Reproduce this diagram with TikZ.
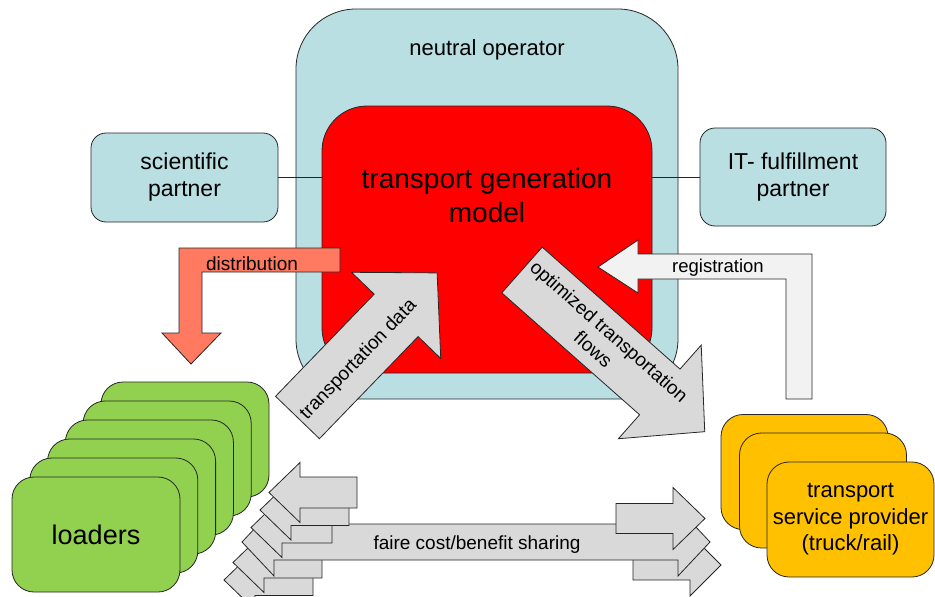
\documentclass[tikz,border=0pt]{standalone}
\usepackage{fontspec}
\setmainfont{Liberation Sans}
\usetikzlibrary{positioning}

\definecolor{opblue}{HTML}{B9DFE3}
\definecolor{modelred}{HTML}{FF0000}
\definecolor{distred}{HTML}{FF7A60}
\definecolor{loadgreen}{HTML}{92D050}
\definecolor{tspyellow}{HTML}{FFC000}
\definecolor{flowgray}{HTML}{D9D9D9}
\definecolor{reggray}{HTML}{F2F2F2}

\tikzset{
  box/.style={draw=black!85, line width=0.8pt, rounded corners=#1, inner sep=0pt, align=center},
  txt/.style={inner sep=0pt, align=center},
  blockline/.style={draw=black!85, line width=0.8pt, line join=miter},
  link/.style={black!85, line width=0.8pt},
}

% block arrow along +x, tail centre at the origin
\newcommand{\blockarrow}[4]{(0,-#2) -- (#1,-#2) -- (#1,-#3) -- ({#1+#4},0) -- (#1,#3) -- (#1,#2) -- (0,#2) -- cycle}
% double block arrow, left tip at the origin
\newcommand{\dblarrow}[4]{(0,0) -- (#4,-#3) -- (#4,-#2) -- ({#4+#1},-#2) -- ({#4+#1},-#3) -- ({2*#4+#1},0) -- ({#4+#1},#3) -- ({#4+#1},#2) -- (#4,#2) -- (#4,#3) -- cycle}

\begin{document}
\begin{tikzpicture}[x=1pt, y=-1pt]
    \path[use as bounding box] (0,0) rectangle (935,597);

    % neutral operator and model
    \node[box=60pt, fill=opblue, minimum width=382pt, minimum height=390pt] (operator) at (487,204) {};
    \node[txt, anchor=base, font=\fontsize{22}{26}\selectfont] (oplabel) at (487,55) {neutral operator};
    \node[box=45pt, fill=modelred, minimum width=330pt, minimum height=267pt] (model) at (487,239.5) {};
    \node[txt, font=\fontsize{28}{34}\selectfont] (modellabel) at (487,195) {transport generation\\model};

    % partners
    \node[box=15pt, fill=opblue, minimum width=187pt, minimum height=89pt, font=\fontsize{23}{27}\selectfont] (sci) at (184.5,177.5) {scientific\\partner};
    \node[box=15pt, fill=opblue, minimum width=186pt, minimum height=98pt, font=\fontsize{23}{27}\selectfont] (itp) at (793,177) {IT- fulfillment\\partner};
    \draw[link] (sci) -- (sci -| model.west);
    \draw[link] (itp) -- (itp -| model.east);

    % distribution
    \draw[blockline, fill=distred] (340,248) -- (179,248) -- (179,333) -- (162,333) -- (191,364) -- (221,333) -- (202,333) -- (202,272) -- (340,272) -- cycle;
    \node[txt, anchor=base, font=\fontsize{19}{23}\selectfont] (distlabel) at (252,270) {distribution};

    % registration
    \draw[blockline, fill=reggray] (812,399) -- (812,254) -- (638,254) -- (638,240) -- (598,267) -- (638,293) -- (638,279) -- (786,279) -- (786,399) -- cycle;
    \node[txt, anchor=base, font=\fontsize{18.5}{22}\selectfont] (reglabel) at (718,272) {registration};

    % transportation data
    \begin{scope}[shift={(297.5,417.5)}, rotate=46, transform shape]
        \draw[blockline, fill=flowgray] \blockarrow{142}{30.5}{62}{59};
        \node[txt, font=\fontsize{19}{23}\selectfont] (datalabel) at (84,4) {transportation data};
    \end{scope}

    % optimized flows
    \begin{scope}[shift={(522,270)}, rotate=-41.5, transform shape]
        \draw[blockline, fill=flowgray] \blockarrow{184}{30.5}{62.5}{60};
        \node[txt, font=\fontsize{19}{24}\selectfont] (flowlabel) at (106,0) {optimized transportation\\flows};
    \end{scope}

    % loaders
    \node[box=22pt, fill=loadgreen, minimum width=168pt, minimum height=115pt] (loader5) at (185,439.5) {};
    \node[box=22pt, fill=loadgreen, minimum width=168pt, minimum height=115pt] (loader4) at (167.2,458.5) {};
    \node[box=22pt, fill=loadgreen, minimum width=168pt, minimum height=115pt] (loader3) at (149.4,477.5) {};
    \node[box=22pt, fill=loadgreen, minimum width=168pt, minimum height=115pt] (loader2) at (131.6,496.5) {};
    \node[box=22pt, fill=loadgreen, minimum width=168pt, minimum height=115pt] (loader1) at (113.8,515.5) {};
    \node[box=22pt, fill=loadgreen, minimum width=168pt, minimum height=115pt, font=\fontsize{27}{32}\selectfont] (loaders) at (96,534.5) {loaders};

    % transport service providers
    \node[box=22pt, fill=tspyellow, minimum width=167pt, minimum height=115pt] (tsp2) at (804.5,472) {};
    \node[box=22pt, fill=tspyellow, minimum width=167pt, minimum height=115pt] (tsp1) at (823,490.5) {};
    \node[box=22pt, fill=tspyellow, minimum width=167pt, minimum height=115pt, font=\fontsize{22}{26.5}\selectfont] (tsp) at (850.5,519.5) {transport\\service provider\\(truck/rail)};

    % cost/benefit sharing
    \draw[blockline, fill=flowgray, shift={(313,580)}, rotate=180] \blockarrow{58}{15.5}{30}{31};
    \draw[blockline, fill=flowgray, shift={(322,562.5)}, rotate=180] \blockarrow{58}{15.5}{30}{31};
    \draw[blockline, fill=flowgray, shift={(633,565)}] \blockarrow{57}{15}{31}{31};
    \draw[blockline, fill=flowgray, shift={(242,542)}] \dblarrow{404}{18}{34}{32};
    \node[txt, anchor=base, font=\fontsize{19}{23}\selectfont] (sharelabel) at (477,549) {faire cost/benefit sharing};
    \draw[blockline, fill=flowgray, shift={(332,527.5)}, rotate=180] \blockarrow{50}{15.5}{30}{31};
    \draw[blockline, fill=flowgray, shift={(349,510)}, rotate=180] \blockarrow{58}{15.5}{30}{31};
    \draw[blockline, fill=flowgray, shift={(357,492.5)}, rotate=180] \blockarrow{57}{15.5}{30}{31};
    \draw[blockline, fill=flowgray, shift={(616,518.5)}] \blockarrow{57}{15}{31}{32};

\end{tikzpicture}
\end{document}
